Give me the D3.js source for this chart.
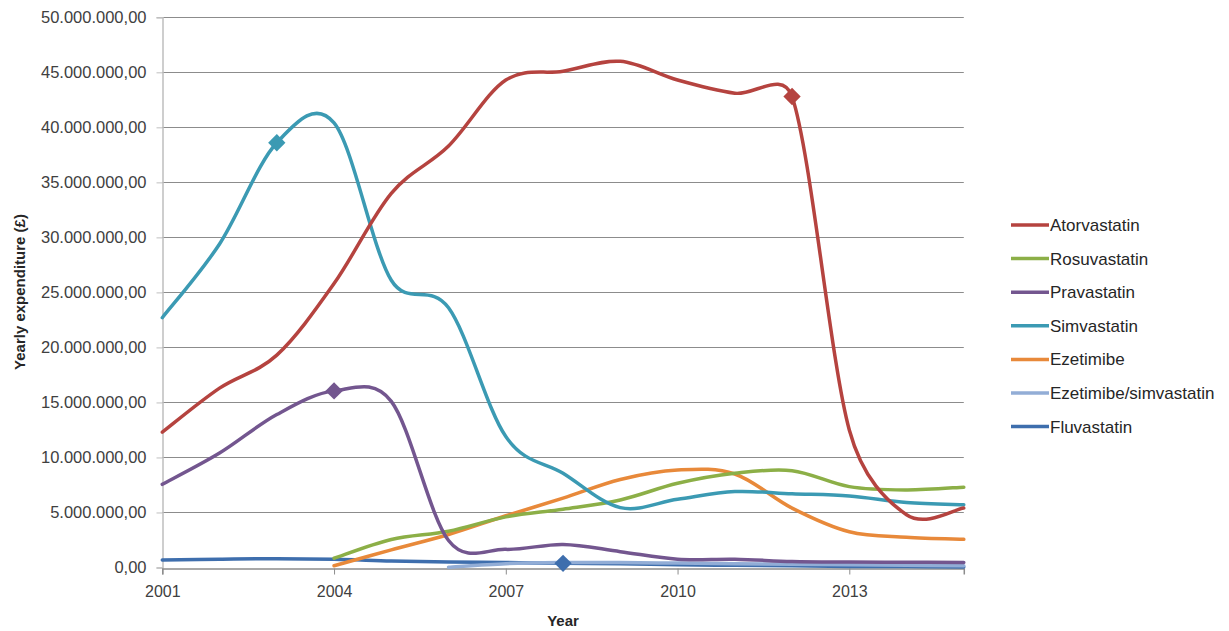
<!DOCTYPE html>
<html><head><meta charset="utf-8">
<script src="https://cdn.jsdelivr.net/npm/d3@7"></script>
<style>body{margin:0;background:#fff}svg{display:block}</style>
</head><body><svg id="c" width="1229" height="631"></svg>
<script>
const years = [2001,2002,2003,2004,2005,2006,2007,2008,2009,2010,2011,2012,2013,2014,2015];
const xTickYears = [2001,2004,2007,2010,2013];
const yTicks = [0,5e6,10e6,15e6,20e6,25e6,30e6,35e6,40e6,45e6,50e6];
const seriesNames = ["Atorvastatin","Rosuvastatin","Pravastatin","Simvastatin","Ezetimibe","Ezetimibe/simvastatin","Fluvastatin"];
const seriesColors = ["#B5433F","#8CAF47","#73568F","#3B9AB3","#E8893A","#92ADD6","#3E6EAD"];
const atorvastatin = [12.3,16.3,19.3,25.8,34.0,38.3,44.3,45.1,46.0,44.3,43.1,42.8,12.5,4.8,5.4];
const rosuvastatin = [null,null,null,0.84,2.55,3.3,4.6,5.3,6.14,7.65,8.56,8.8,7.35,7.05,7.3];
const pravastatin = [7.56,10.4,13.9,16.05,15.1,2.45,1.65,2.1,1.44,0.75,0.75,0.55,0.5,0.48,0.45];
const simvastatin = [22.7,29.4,38.6,40.4,26.1,23.6,11.9,8.56,5.44,6.2,6.9,6.7,6.5,5.9,5.7];
const ezetimibe = [null,null,null,0.16,1.6,3.0,4.7,6.3,8.0,8.86,8.5,5.4,3.25,2.75,2.56];
const ezetimibeSimvastatin = [null,null,null,null,null,0.03,0.35,0.45,0.45,0.4,0.35,0.3,0.25,0.2,0.15];
const fluvastatin = [0.68,0.75,0.8,0.75,0.6,0.5,0.45,0.38,0.35,0.25,0.2,0.15,0.1,0.08,0.05];
const seriesValues = [atorvastatin,rosuvastatin,pravastatin,simvastatin,ezetimibe,ezetimibeSimvastatin,fluvastatin];
// highlighted points: [series index, year]
const markers = [[3,2003],[0,2012],[2,2004],[6,2008]];

const svg = d3.select("#c");
const x = d3.scaleLinear().domain([2001,2015]).range([162.3,963.8]);
const y = d3.scaleLinear().domain([0,50e6]).range([567.5,17.3]);
const loc = d3.formatLocale({decimal:",",thousands:".",grouping:[3],currency:["£",""]});
const fmt = loc.format(",.2f");
const font = "'Liberation Sans', Arial, sans-serif";

// Excel-style smoothing: Bezier with 1/6 tangents, control distance capped at half the segment
function smoothPath(pts){
  const p = d3.path();
  const n = pts.length;
  if(!n) return "";
  p.moveTo(pts[0][0],pts[0][1]);
  const dist=(a,b)=>Math.hypot(b[0]-a[0],b[1]-a[1]);
  for(let i=0;i<n-1;i++){
    const P0=pts[Math.max(0,i-1)], P1=pts[i], P2=pts[i+1], P3=pts[Math.min(n-1,i+2)];
    const d12=dist(P1,P2), d02=dist(P0,P2), d13=dist(P1,P3);
    let f1=1/6, f2=1/6;
    if(d02>0 && f1*d02>d12/2) f1=d12/2/d02;
    if(d13>0 && f2*d13>d12/2) f2=d12/2/d13;
    const c1=[P1[0]+f1*(P2[0]-P0[0]), P1[1]+f1*(P2[1]-P0[1])];
    const c2=[P2[0]-f2*(P3[0]-P1[0]), P2[1]-f2*(P3[1]-P1[1])];
    p.bezierCurveTo(c1[0],c1[1],c2[0],c2[1],P2[0],P2[1]);
  }
  return p.toString();
}

// gridlines
svg.append("g").selectAll("line").data(yTicks.filter(d=>d>0)).join("line")
  .attr("x1",x(2001)).attr("x2",x(2015)).attr("y1",d=>Math.round(y(d))+0.5).attr("y2",d=>Math.round(y(d))+0.5)
  .attr("stroke","#8C8C8C").attr("stroke-width",1);

// y axis
const ya = svg.append("g").attr("transform",`translate(${Math.round(x(2001))+0.5},0)`)
  .call(d3.axisLeft(y).tickValues(yTicks).tickFormat(fmt).tickSize(6).tickPadding(10));
ya.select(".domain").attr("stroke","#BFBFBF").attr("stroke-width",1.5);
ya.selectAll(".tick line").attr("stroke","#BFBFBF");
ya.selectAll("text").attr("font-family",font).attr("font-size",16.5).attr("fill","#404040");

// x axis
const xa = svg.append("g").attr("transform",`translate(0,${Math.round(y(0))+0.5})`)
  .call(d3.axisBottom(x).tickValues(xTickYears).tickFormat(d3.format("d")).tickSize(6).tickPadding(11));
xa.select(".domain").attr("stroke","#8C8C8C").attr("stroke-width",1.5);
xa.selectAll(".tick line").attr("stroke","#8C8C8C");
xa.selectAll("text").attr("font-family",font).attr("font-size",16).attr("fill","#404040");

// titles
svg.append("text").attr("x",x(2008)).attr("y",626).attr("text-anchor","middle")
  .attr("font-family",font).attr("font-size",15).attr("font-weight","bold").attr("fill","#262626").text("Year");
svg.append("text").attr("transform","translate(25,292) rotate(-90)").attr("text-anchor","middle")
  .attr("font-family",font).attr("font-size",15).attr("font-weight","bold").attr("fill","#262626").text("Yearly expenditure (£)");

// lines
const order = [6,5,4,1,2,3,0];
order.forEach(i=>{
  const pts = years.map((yr,k)=>[yr,seriesValues[i][k]]).filter(d=>d[1]!=null).map(d=>[x(d[0]),y(d[1]*1e6)]);
  svg.append("path").attr("d",smoothPath(pts)).attr("fill","none").attr("stroke",seriesColors[i])
    .attr("stroke-width",3.5).attr("stroke-linejoin","round").attr("stroke-linecap","round");
});

// markers
markers.forEach(([i,yr])=>{
  const v = seriesValues[i][years.indexOf(yr)];
  svg.append("path").attr("d",d3.symbol(d3.symbolSquare,150)())
    .attr("transform",`translate(${x(yr)},${y(v*1e6)}) rotate(45)`).attr("fill",seriesColors[i]);
});

// legend
const lg = svg.append("g");
seriesNames.forEach((n,i)=>{
  const yy = 225 + i*33.6;
  lg.append("line").attr("x1",1011).attr("x2",1049).attr("y1",yy).attr("y2",yy)
    .attr("stroke",seriesColors[i]).attr("stroke-width",3.5);
  lg.append("text").attr("x",1050).attr("y",yy+6).attr("font-family",font).attr("font-size",17)
    .attr("fill","#262626").text(n);
});
</script></body></html>
